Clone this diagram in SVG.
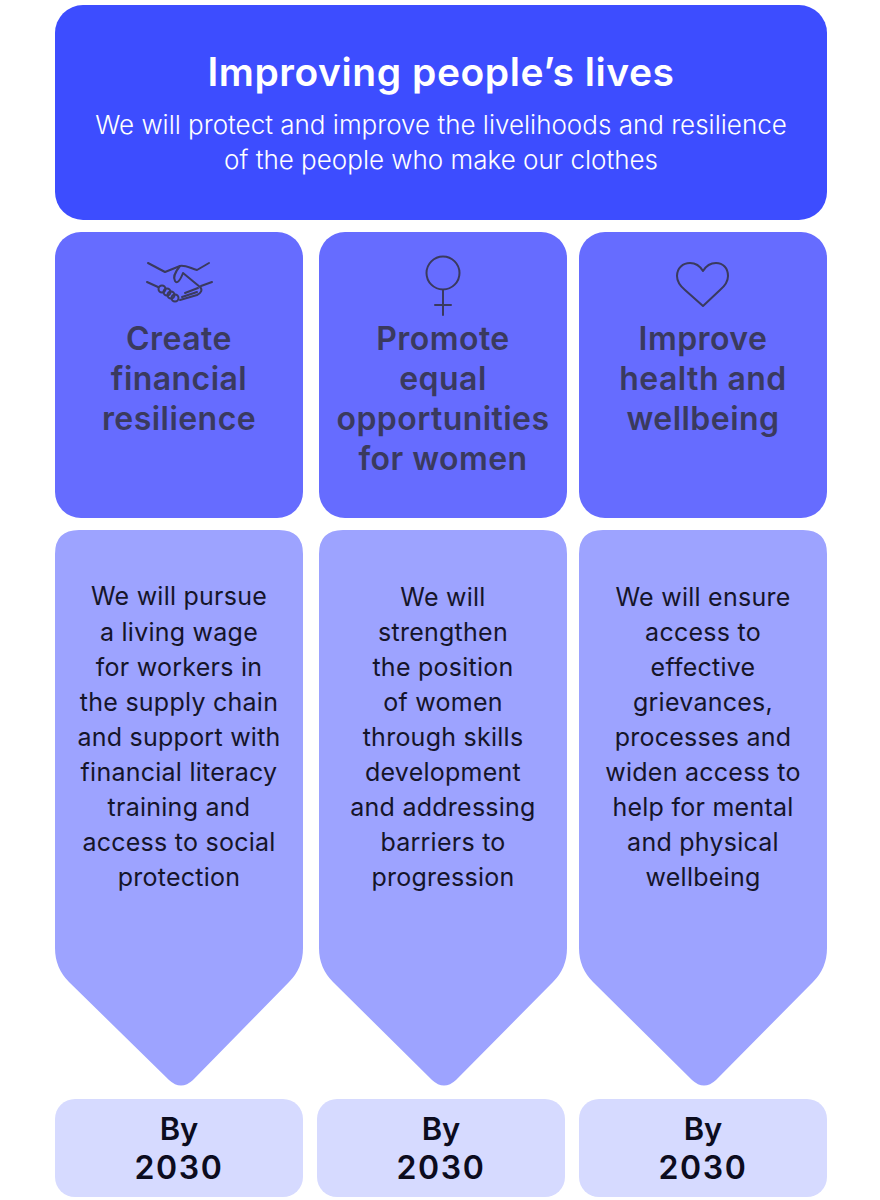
<svg xmlns="http://www.w3.org/2000/svg" width="880" height="1200" viewBox="0 0 880 1200">
<style>
text{font-family:Inter,"Liberation Sans",sans-serif;text-anchor:middle}
.t{font-size:39px;font-weight:600;fill:#fff;letter-spacing:.55px}
.s{font-size:26px;font-weight:300;fill:#fff}
.h{font-size:32px;font-weight:600;fill:#3a3a5e;letter-spacing:.45px}
.b{font-size:25px;font-weight:400;fill:#15152a;letter-spacing:.25px}
.y{font-size:31px;font-weight:600;fill:#0c0c1e}
.n{font-size:32px;letter-spacing:1.6px}
.hd{fill:#3d4dff}.c{fill:#666cff}.a{fill:#9da3ff}.d{fill:#d6daff}
.i{fill:none;stroke:#3a3a5e;stroke-width:2;stroke-linecap:round;stroke-linejoin:round}
</style>
<rect width="880" height="1200" fill="#fff"/>
<g id="header"><rect class="hd" x="55" y="5" width="772" height="215" rx="28"/>
<text class="t" x="441" y="86">Improving people’s lives</text>
<text class="s" x="441" y="134">We will protect and improve the livelihoods and resilience</text>
<text class="s" x="441" y="169">of the people who make our clothes</text></g>
<g id="card-1"><rect class="c" x="55" y="232" width="248" height="286" rx="26"/>
<g class="i"><path d="M148 263L165 272L180 266C185 265 190 268 197 270L209 263"/><path d="M180 266C175 272 173 278 175 281C177 284 180 281 183 273L200 287C203 290 201 293 197 295L180 300"/><path d="M212 282L201 286M198 288L185 293M197 292L182 297"/><path d="M147 282L158 287"/><circle cx="162" cy="289" r="3.5"/><circle cx="167" cy="292" r="3.5"/><circle cx="171" cy="295" r="3.5"/><circle cx="175" cy="298" r="3.5"/></g>
<text class="h" x="179" y="350">Create</text><text class="h" x="179" y="390">financial</text><text class="h" x="179" y="430">resilience</text></g>
<g id="card-2"><rect class="c" x="319" y="232" width="248" height="286" rx="26"/>
<g class="i"><circle cx="443" cy="273" r="16.5"/><path d="M443 290V315M435 305H451"/></g>
<text class="h" x="443" y="350">Promote</text><text class="h" x="443" y="390">equal</text><text class="h" x="443" y="430">opportunities</text><text class="h" x="443" y="470">for women</text></g>
<g id="card-3"><rect class="c" x="579" y="232" width="248" height="286" rx="26"/>
<path class="i" d="M703 306L685 290C679 285 677 280 677 276C677 268 683 263 690 263C695 263 700 266 703 271C706 266 711 263 716 263C723 263 728 268 728 276C728 280 726 285 720 290Z"/>
<text class="h" x="703" y="350">Improve</text><text class="h" x="703" y="390">health and</text><text class="h" x="703" y="430">wellbeing</text></g>
<g id="detail-1"><path class="a" d="M79 530H279Q303 530 303 554V948Q303 968 289 982L193 1080Q181 1091 169 1080L69 982Q55 968 55 948V554Q55 530 79 530Z"/>
<text class="b" x="179" y="605">We will pursue</text><text class="b" x="179" y="641">a living wage</text><text class="b" x="179" y="676">for workers in</text><text class="b" x="179" y="711">the supply chain</text><text class="b" x="179" y="746">and support with</text><text class="b" x="179" y="781">financial literacy</text><text class="b" x="179" y="816">training and</text><text class="b" x="179" y="851">access to social</text><text class="b" x="179" y="886">protection</text></g>
<g id="detail-2"><path class="a" d="M343 530H543Q567 530 567 554V948Q567 968 553 982L456 1080Q444 1091 432 1080L333 982Q319 968 319 948V554Q319 530 343 530Z"/>
<text class="b" x="443" y="606">We will</text><text class="b" x="443" y="641">strengthen</text><text class="b" x="443" y="676">the position</text><text class="b" x="443" y="711">of women</text><text class="b" x="443" y="746">through skills</text><text class="b" x="443" y="781">development</text><text class="b" x="443" y="816">and addressing</text><text class="b" x="443" y="851">barriers to</text><text class="b" x="443" y="886">progression</text></g>
<g id="detail-3"><path class="a" d="M603 530H803Q827 530 827 554V948Q827 968 813 982L716 1080Q704 1091 692 1080L593 982Q579 968 579 948V554Q579 530 603 530Z"/>
<text class="b" x="703" y="606">We will ensure</text><text class="b" x="703" y="641">access to</text><text class="b" x="703" y="676">effective</text><text class="b" x="703" y="711">grievances,</text><text class="b" x="703" y="746">processes and</text><text class="b" x="703" y="781">widen access to</text><text class="b" x="703" y="816">help for mental</text><text class="b" x="703" y="851">and physical</text><text class="b" x="703" y="886">wellbeing</text></g>
<g id="date-1"><rect class="d" x="55" y="1099" width="248" height="98" rx="20"/><text class="y" x="179" y="1140">By</text><text class="y n" x="179" y="1179">2030</text></g>
<g id="date-2"><rect class="d" x="317" y="1099" width="248" height="98" rx="20"/><text class="y" x="441" y="1140">By</text><text class="y n" x="441" y="1179">2030</text></g>
<g id="date-3"><rect class="d" x="579" y="1099" width="248" height="98" rx="20"/><text class="y" x="703" y="1140">By</text><text class="y n" x="703" y="1179">2030</text></g>
<g id="connectors"/>
</svg>
